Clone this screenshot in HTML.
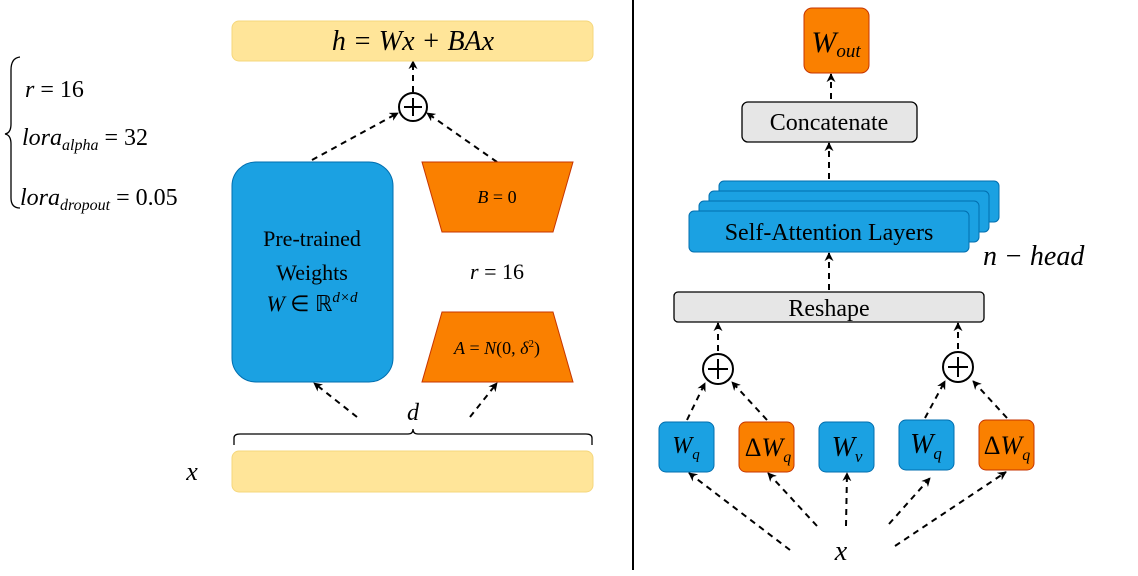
<!DOCTYPE html>
<html><head><meta charset="utf-8"><style>
html,body{margin:0;padding:0;background:#fff;}
svg{display:block;}
text{font-family:"Liberation Serif",serif;fill:#000;}
.i{font-style:italic;}
</style></head><body>
<svg width="1138" height="576" viewBox="0 0 1138 576" xmlns="http://www.w3.org/2000/svg">
<defs>
<marker id="a" viewBox="0 0 10 10" refX="9" refY="5" markerWidth="9" markerHeight="9" markerUnits="userSpaceOnUse" orient="auto">
<path d="M0,0 L10,5 L0,10 L3,5 z" fill="#000"/></marker>
</defs>
<g stroke="#000" stroke-width="2" stroke-dasharray="6,5" fill="none" marker-end="url(#a)">
<line x1="312" y1="160" x2="398" y2="113"/>
<line x1="497" y1="162" x2="427" y2="113"/>
<line x1="413" y1="92" x2="413" y2="61"/>
<line x1="357" y1="417" x2="314" y2="383"/>
<line x1="470" y1="417" x2="497" y2="383"/>
<line x1="831" y1="99" x2="831" y2="74"/>
<line x1="829" y1="179" x2="829" y2="143"/>
<line x1="829" y1="290" x2="829" y2="253"/>
<line x1="718" y1="351" x2="718" y2="323"/>
<line x1="958" y1="349" x2="958" y2="323"/>
<line x1="687" y1="420" x2="705" y2="383"/>
<line x1="767" y1="420" x2="732" y2="382"/>
<line x1="925" y1="418" x2="945" y2="381"/>
<line x1="1007" y1="418" x2="973" y2="381"/>
<line x1="790" y1="550" x2="689" y2="473"/>
<line x1="817" y1="526" x2="768" y2="473"/>
<line x1="846" y1="526" x2="847" y2="473"/>
<line x1="889" y1="524" x2="930" y2="478"/>
<line x1="895" y1="546" x2="1006" y2="472"/>
</g>
<!-- left -->
<rect x="232" y="21" width="361" height="40" rx="7" fill="#ffe599" stroke="#f5d77c"/>
<text x="413" y="50" text-anchor="middle" class="i" font-size="28">h = Wx + BAx</text>
<circle cx="413" cy="107" r="14" fill="#fff" stroke="#000" stroke-width="2"/>
<path d="M413,98 V116 M404,107 H422" stroke="#000" stroke-width="2"/>
<rect x="232" y="162" width="161" height="220" rx="24" fill="#1ba1e2" stroke="#006eaf"/>
<text x="312" y="246" text-anchor="middle" font-size="22">Pre-trained</text>
<text x="312" y="280" text-anchor="middle" font-size="22">Weights</text>
<text x="312" y="311" text-anchor="middle" font-size="22"><tspan class="i">W</tspan> ∈ ℝ<tspan class="i" font-size="15" dy="-9">d×d</tspan></text>
<polygon points="422,162 573,162 553,232 442,232" fill="#fa8000" stroke="#c73500"/>
<text x="497" y="203" text-anchor="middle" font-size="18"><tspan class="i">B</tspan> = 0</text>
<text x="497" y="279" text-anchor="middle" font-size="22"><tspan class="i">r</tspan> = 16</text>
<polygon points="442,312 553,312 573,382 422,382" fill="#fa8000" stroke="#c73500"/>
<text x="497" y="354" text-anchor="middle" font-size="18"><tspan class="i">A</tspan> = <tspan class="i">N</tspan>(0, <tspan class="i">δ</tspan><tspan font-size="11" dy="-7">2</tspan><tspan dy="7">)</tspan></text>
<text x="413" y="420" text-anchor="middle" class="i" font-size="24">d</text>
<path d="M234,445 V438 Q234,434 240,434 H408 Q413,434 413,429 Q413,434 418,434 H586 Q592,434 592,438 V445" fill="none" stroke="#000" stroke-width="1.3"/>
<rect x="232" y="451" width="361" height="41" rx="7" fill="#ffe599" stroke="#f5d77c"/>
<text x="192" y="480" text-anchor="middle" class="i" font-size="26">x</text>
<path d="M20,57 Q11,58 11,70 V124 Q11,133 5,134 Q11,135 11,144 V198 Q11,208 20,208" fill="none" stroke="#000" stroke-width="1.3"/>
<text x="25" y="97" font-size="24"><tspan class="i">r</tspan> = 16</text>
<text x="22" y="145" font-size="24"><tspan class="i">lora</tspan><tspan class="i" font-size="16" dy="5">alpha</tspan><tspan dy="-5"> = 32</tspan></text>
<text x="20" y="205" font-size="24"><tspan class="i">lora</tspan><tspan class="i" font-size="16" dy="5">dropout</tspan><tspan dy="-5"> = 0.05</tspan></text>
<line x1="633" y1="0" x2="633" y2="570" stroke="#000" stroke-width="2"/>
<!-- right -->
<rect x="804" y="8" width="65" height="65" rx="8" fill="#fa8000" stroke="#c73500"/>
<text x="836" y="52" text-anchor="middle" font-size="30"><tspan class="i">W</tspan><tspan class="i" font-size="19" dy="5">out</tspan></text>
<rect x="742" y="102" width="175" height="40" rx="6" fill="#e6e6e6" stroke="#000" stroke-width="1.3"/>
<text x="829" y="130" text-anchor="middle" font-size="24">Concatenate</text>
<rect x="719" y="181" width="280" height="41" rx="5" fill="#1ba1e2" stroke="#006eaf"/>
<rect x="709" y="191" width="280" height="41" rx="5" fill="#1ba1e2" stroke="#006eaf"/>
<rect x="699" y="201" width="280" height="41" rx="5" fill="#1ba1e2" stroke="#006eaf"/>
<rect x="689" y="211" width="280" height="41" rx="5" fill="#1ba1e2" stroke="#006eaf"/>
<text x="829" y="240" text-anchor="middle" font-size="24">Self-Attention Layers</text>
<text x="983" y="265" class="i" font-size="28">n − head</text>
<rect x="674" y="292" width="310" height="30" rx="4" fill="#e6e6e6" stroke="#000" stroke-width="1.3"/>
<text x="829" y="316" text-anchor="middle" font-size="24">Reshape</text>
<circle cx="718" cy="369" r="15" fill="#fff" stroke="#000" stroke-width="2"/>
<path d="M718,359 V379 M708,369 H728" stroke="#000" stroke-width="2"/>
<circle cx="958" cy="367" r="15" fill="#fff" stroke="#000" stroke-width="2"/>
<path d="M958,357 V377 M948,367 H968" stroke="#000" stroke-width="2"/>
<rect x="659" y="422" width="55" height="50" rx="7" fill="#1ba1e2" stroke="#006eaf"/>
<text x="686" y="453" text-anchor="middle" font-size="24"><tspan class="i">W</tspan><tspan class="i" font-size="15" dy="6">q</tspan></text>
<rect x="739" y="422" width="55" height="50" rx="7" fill="#fa8000" stroke="#c73500"/>
<text x="768" y="456" text-anchor="middle" font-size="26">Δ<tspan class="i">W</tspan><tspan class="i" font-size="16" dy="6">q</tspan></text>
<rect x="819" y="422" width="55" height="50" rx="7" fill="#1ba1e2" stroke="#006eaf"/>
<text x="847" y="456" text-anchor="middle" font-size="28"><tspan class="i">W</tspan><tspan class="i" font-size="17" dy="6">v</tspan></text>
<rect x="899" y="420" width="55" height="50" rx="7" fill="#1ba1e2" stroke="#006eaf"/>
<text x="926" y="453" text-anchor="middle" font-size="28"><tspan class="i">W</tspan><tspan class="i" font-size="17" dy="6">q</tspan></text>
<rect x="979" y="420" width="55" height="50" rx="7" fill="#fa8000" stroke="#c73500"/>
<text x="1007" y="454" text-anchor="middle" font-size="26">Δ<tspan class="i">W</tspan><tspan class="i" font-size="16" dy="6">q</tspan></text>
<text x="841" y="560" text-anchor="middle" class="i" font-size="28">x</text>
</svg>
</body></html>
